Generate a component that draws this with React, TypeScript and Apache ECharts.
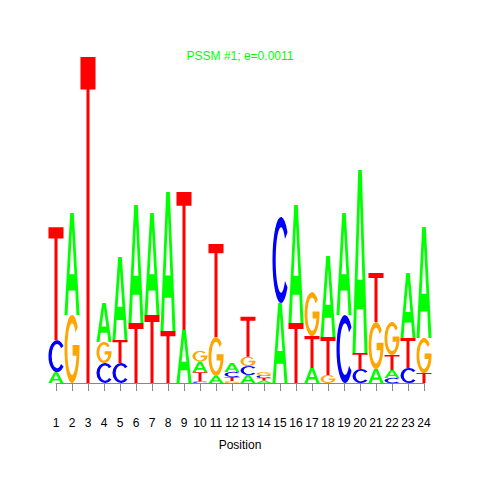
import React, { useEffect, useRef } from "react";
import * as echarts from "echarts";

// Sequence-logo data: letter heights (bits) at each position
const positions = [1, 2, 3, 4, 5, 6, 7, 8, 9, 10, 11, 12, 13, 14, 15, 16, 17, 18, 19, 20, 21, 22, 23, 24];
const heightA = [0.067, 0.626, 0, 0.239, 0.509, 0.724, 0.626, 0.853, 0.325, 0.064, 0.043, 0.055, 0.049, 0.015, 0.491, 0.724, 0.092, 0.497, 0.626, 1.123, 0.086, 0.049, 0.399, 0.681];
const heightC = [0.196, 0, 0, 0.123, 0.123, 0, 0, 0, 0, 0.009, 0, 0.031, 0.055, 0.017, 0.528, 0, 0, 0, 0.417, 0.086, 0, 0.031, 0.092, 0];
const heightG = [0, 0.417, 0, 0.129, 0, 0, 0, 0, 0, 0.067, 0.239, 0.012, 0.058, 0.019, 0, 0, 0.27, 0.049, 0, 0, 0.288, 0.202, 0, 0.215];
const heightT = [0.693, 0, 2.0, 0, 0.141, 0.368, 0.417, 0.319, 0.847, 0.058, 0.571, 0.025, 0.245, 0.016, 0, 0.368, 0.196, 0.233, 0, 0.098, 0.301, 0.092, 0.184, 0.061];
const letters = ["A", "C", "G", "T"];
const letterColors = ["#00FF00", "#0000FF", "#FFA500", "#FF0000"];
const titleText = "PSSM #1; e=0.0011";
const xName = "Position";

const GLYPHS = [
  // A
  "M0,100 L38,0 L62,0 L100,100 L80,100 L72,76 L28,76 L20,100 Z M34,60 L66,60 L50,16 Z",
  // C
  "M88.3,17.9 A50,50 0 1,0 88.3,82.1 L73.7,74.4 A31,38 0 1,1 73.7,25.6 Z",
  // G
  "M88.3,17.9 A50,50 0 1,0 100,50 L100,44 L54,44 L54,60 L79.9,60 A31,38 0 1,1 73.7,25.6 Z",
  // T
  "M0,0 L100,0 L100,10 L60,10 L60,100 L40,100 L40,10 L0,10 Z",
];

function buildData() {
  const all = [heightA, heightC, heightG, heightT];
  const out: number[][] = [];
  positions.forEach((p, i) => {
    const entries = letters
      .map((_, li) => ({ li, h: all[li][i] }))
      .filter((e) => e.h > 0)
      .sort((a, b) => a.h - b.h);
    let y = 0;
    entries.forEach((e) => {
      out.push([p, y, y + e.h, e.li]);
      y += e.h;
    });
  });
  return out;
}

export default function App() {
  const ref = useRef<HTMLDivElement>(null);
  useEffect(() => {
    if (!ref.current) return;
    const chart = echarts.init(ref.current, null, { renderer: "svg" });
    const font = "'Liberation Sans', Arial, sans-serif";
    chart.setOption({
      animation: false,
      backgroundColor: "#ffffff",
      title: {
        text: titleText,
        left: "center",
        top: 45,
        textStyle: { color: "#00FF00", fontSize: 12, fontWeight: "normal", fontFamily: font },
      },
      grid: { left: 56, right: 56, top: 57, bottom: 79 },
      xAxis: {
        type: "value",
        min: 1,
        max: 24,
        interval: 1,
        name: xName,
        nameLocation: "middle",
        nameGap: 38,
        nameTextStyle: { color: "#000", fontSize: 12, fontFamily: font },
        axisLine: { show: true, lineStyle: { color: "#888", width: 1 } },
        axisTick: { show: true, inside: false, length: 8, lineStyle: { color: "#888", width: 1 } },
        axisLabel: { color: "#000", fontSize: 12, margin: 16, fontFamily: font },
        splitLine: { show: false },
      },
      yAxis: {
        type: "value",
        min: -0.11,
        max: 2.0,
        show: false,
        splitLine: { show: false },
      },
      series: [
        {
          type: "custom",
          clip: false,
          data: buildData(),
          encode: { x: 0, y: [1, 2] },
          renderItem: (params: any, api: any) => {
            const pos = api.value(0);
            const y0 = api.value(1);
            const y1 = api.value(2);
            const li = api.value(3);
            const tl = api.coord([pos - 0.47, y1]);
            const br = api.coord([pos + 0.47, y0]);
            return {
              type: "path",
              shape: {
                pathData: GLYPHS[li],
                x: tl[0],
                y: tl[1],
                width: br[0] - tl[0],
                height: Math.max(br[1] - tl[1], 0.3),
                layout: "cover",
              },
              style: { fill: letterColors[li] },
            };
          },
        },
      ],
    });
    return () => chart.dispose();
  }, []);
  return (
    <div
      ref={ref}
      style={{ position: "absolute", left: 0, top: 0, width: 480, height: 480 }}
    />
  );
}
